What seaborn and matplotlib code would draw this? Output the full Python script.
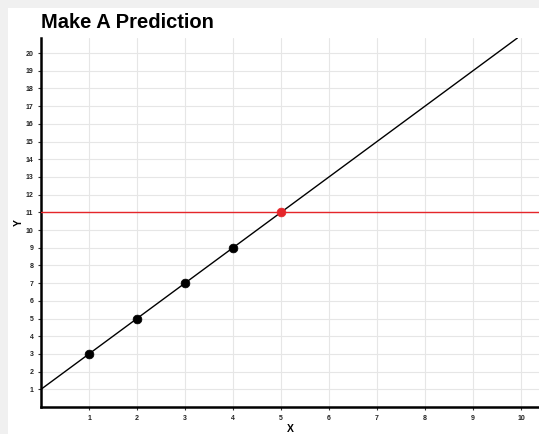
import seaborn as sns
import pandas as pd
import matplotlib.pyplot as plt
from matplotlib.patches import Rectangle

# observed points
obs_x = [1, 2, 3, 4]
obs_y = [3, 5, 7, 9]
# predicted point
pred_x = [5]
pred_y = [11]
# fitted line y = slope * x + intercept
intercept = 1
slope = 2

x_ticks = list(range(1, 11))
y_ticks = list(range(1, 21))

sns.set_style("white")
plt.rcParams['font.family'] = ['Liberation Sans', 'DejaVu Sans']
plt.rcParams['text.color'] = 'black'
plt.rcParams['axes.labelcolor'] = 'black'

fig = plt.figure(figsize=(5.39, 4.34), dpi=100)
fig.patch.set_facecolor("#f0f0f0")
fig.patches.append(Rectangle((8 / 539, 0), 1, 1 - 8 / 434, transform=fig.transFigure,
                             facecolor="white", edgecolor="none", zorder=-10))

ax = fig.add_axes([41 / 539, 27 / 434, 1 - 41 / 539, (407 - 38) / 434])
ax.set_facecolor("white")

df = pd.DataFrame({"X": obs_x, "Y": obs_y})
pred = pd.DataFrame({"X": pred_x, "Y": pred_y})

ax.axline((0, intercept), slope=slope, color="black", lw=1.0, zorder=3)
ax.axhline(pred_y[0], color="#e5262a", lw=1.0, zorder=3)
sns.scatterplot(data=df, x="X", y="Y", color="black", s=40, edgecolor="black", zorder=4, ax=ax)
sns.scatterplot(data=pred, x="X", y="Y", color="#e5262a", s=40, edgecolor="#e5262a", zorder=4, ax=ax)

ax.set_xlim(0, 10.375)
ax.set_ylim(0, 20.85)
ax.set_xticks(x_ticks)
ax.set_yticks(y_ticks)
ax.set_xticklabels([str(t) for t in x_ticks], fontsize=5, fontweight="bold", color="#222222")
ax.set_yticklabels([str(t) for t in y_ticks], fontsize=5, fontweight="bold", color="#222222")
ax.tick_params(axis="both", length=2.5, width=0.8, color="#333333", pad=3, bottom=True, left=True)
ax.grid(True, color="#e6e6e6", lw=0.8)
ax.set_axisbelow(True)

for side in ["top", "right"]:
    ax.spines[side].set_visible(False)
for side in ["left", "bottom"]:
    ax.spines[side].set_color("black")
    ax.spines[side].set_linewidth(1.8)

ax.set_xlabel("X", fontsize=7.5, fontweight="bold", labelpad=2)
ax.set_ylabel("Y", fontsize=7.5, fontweight="bold", labelpad=1)
fig.text(41 / 539, 1 - 23 / 434, "Make A Prediction", fontsize=14.5, fontweight="bold",
         va="center", ha="left", color="black")

plt.savefig("out.png", dpi=100, facecolor=fig.get_facecolor())
